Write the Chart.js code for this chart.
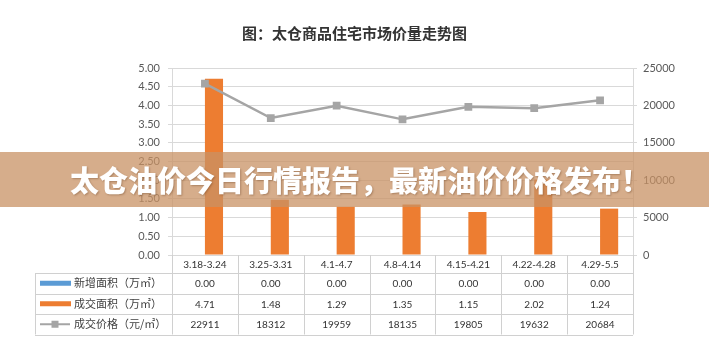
<!DOCTYPE html>
<html>
<head>
<meta charset="utf-8">
<script src="https://cdn.jsdelivr.net/npm/chart.js@4.4.0/dist/chart.umd.min.js"></script>
<style>
  html, body { margin: 0; padding: 0; background: #fff; }
  #wrap { width: 709px; height: 362px; }
</style>
</head>
<body>
<div id="wrap"><canvas id="priceChart" width="709" height="362"></canvas></div>
<script>
// data
var TITLE = '图：太仓商品住宅市场价量走势图';
var BANNER = '太仓油价今日行情报告，最新油价价格发布！';
var weeks = ['3.18-3.24', '3.25-3.31', '4.1-4.7', '4.8-4.14', '4.15-4.21', '4.22-4.28', '4.29-5.5'];
var seriesNames = ['新增面积（万㎡）', '成交面积（万㎡）', '成交价格（元/㎡）'];
var newArea = [0, 0, 0, 0, 0, 0, 0];
var soldArea = [4.71, 1.48, 1.29, 1.35, 1.15, 2.02, 1.24];
var soldPrice = [22911, 18312, 19959, 18135, 19805, 19632, 20684];

const BLUE = '#5B9BD5';
const ORANGE = '#ED7D31';
const GRAY = '#A5A5A5';
const GRID = '#D9D9D9';
const TABLE_LINE = '#D0D0D0';
const NUM_FONT = 'Lato, "Liberation Sans", sans-serif';
const CJK_FONT = '"Noto Sans CJK SC", sans-serif';

// data table under the plot (replaces the x axis, like Excel's data table)
var tablePlugin = {
    id: 'dataTable',
    afterDraw: function (chart) {
        var ctx = chart.ctx;
        var area = chart.chartArea;
        var xs = chart.scales.x;
        var cw = xs.getPixelForValue(1) - xs.getPixelForValue(0);
        var tableLeft = 35;
        var headTop = area.bottom;
        var headH = 18;
        var rowH = 20.5;
        var rowsTop = headTop + headH;
        var bottom = rowsTop + rowH * 3;

        ctx.save();
        ctx.strokeStyle = TABLE_LINE;
        ctx.lineWidth = 1;
        ctx.beginPath();
        for (var i = 0; i <= weeks.length; i++) {
            var x = Math.round(area.left + i * cw) + 0.5;
            ctx.moveTo(x, headTop);
            ctx.lineTo(x, bottom);
        }
        ctx.moveTo(tableLeft + 0.5, rowsTop);
        ctx.lineTo(tableLeft + 0.5, bottom);
        for (var r = 0; r <= 3; r++) {
            var y = Math.round(rowsTop + r * rowH) + 0.5;
            ctx.moveTo(tableLeft, y);
            ctx.lineTo(area.right, y);
        }
        ctx.stroke();

        // header row: week labels
        ctx.fillStyle = '#333';
        ctx.font = '10px ' + NUM_FONT;
        ctx.textAlign = 'center';
        ctx.textBaseline = 'middle';
        weeks.forEach(function (w, i) {
            ctx.fillText(w, xs.getPixelForValue(i), headTop + headH / 2 + 1);
        });

        // rows: legend key + values
        var rows = [
            {ds: chart.data.datasets[1], fmt: function (v) { return v.toFixed(2); }},
            {ds: chart.data.datasets[2], fmt: function (v) { return v.toFixed(2); }},
            {ds: chart.data.datasets[0], fmt: function (v) { return String(v); }}
        ];
        rows.forEach(function (row, r) {
            var cy = rowsTop + r * rowH + rowH / 2;
            var ds = row.ds;
            if (ds.type === 'line') {
                ctx.strokeStyle = ds.borderColor;
                ctx.lineWidth = 2;
                ctx.beginPath();
                ctx.moveTo(40, cy);
                ctx.lineTo(70, cy);
                ctx.stroke();
                ctx.fillStyle = ds.borderColor;
                ctx.fillRect(51.5, cy - 3.5, 7, 7);
            } else {
                ctx.fillStyle = ds.backgroundColor;
                ctx.fillRect(40, cy - 2.5, 31, 5);
            }
            ctx.fillStyle = '#404040';
            ctx.font = '11px ' + CJK_FONT;
            ctx.textAlign = 'left';
            ctx.fillText(ds.label, 74, cy);

            ctx.fillStyle = '#333';
            ctx.font = '10px ' + NUM_FONT;
            ctx.textAlign = 'center';
            ds.data.forEach(function (v, i) {
                ctx.fillText(row.fmt(v), xs.getPixelForValue(i), cy + 1);
            });
        });
        ctx.restore();
    }
};

// the headline band laid across the picture
var bannerPlugin = {
    id: 'banner',
    afterDraw: function (chart) {
        var ctx = chart.ctx;
        ctx.save();
        ctx.fillStyle = 'rgba(200, 145, 100, 0.75)';
        ctx.fillRect(0, 152, chart.width, 55);
        ctx.font = '900 29px ' + CJK_FONT;
        ctx.fillStyle = '#fff';
        ctx.textAlign = 'center';
        ctx.textBaseline = 'middle';
        ctx.shadowColor = 'rgba(90, 50, 20, 0.35)';
        ctx.shadowBlur = 2;
        ctx.shadowOffsetX = 1;
        ctx.shadowOffsetY = 1;
        ctx.fillText(BANNER, 360, 181);
        ctx.restore();
    }
};

var ctx = document.getElementById('priceChart');
var chart = new Chart(ctx, {
    type: 'bar',
    data: {
        labels: weeks,
        datasets: [
            {
                type: 'line',
                label: seriesNames[2],
                data: soldPrice,
                yAxisID: 'yR',
                borderColor: GRAY,
                backgroundColor: GRAY,
                borderWidth: 2.5,
                pointStyle: 'rect',
                pointRadius: 5.5,
                pointBorderWidth: 0,
                tension: 0,
                order: 0
            },
            {
                label: seriesNames[0],
                data: newArea,
                yAxisID: 'yL',
                backgroundColor: BLUE,
                barPercentage: 1,
                categoryPercentage: 0.55,
                order: 1
            },
            {
                label: seriesNames[1],
                data: soldArea,
                yAxisID: 'yL',
                backgroundColor: ORANGE,
                barPercentage: 1,
                categoryPercentage: 0.55,
                order: 1
            }
        ]
    },
    options: {
        responsive: false,
        animation: false,
        devicePixelRatio: 1,
        layout: {padding: {left: 0, right: 0, top: 0, bottom: 107}},
        plugins: {
            legend: {display: false},
            tooltip: {enabled: false},
            title: {
                display: true,
                text: TITLE,
                color: '#333',
                font: {family: CJK_FONT, size: 15, weight: 'bold'},
                padding: {top: 24, bottom: 26}
            }
        },
        scales: {
            x: {
                display: false,
                offset: true
            },
            yL: {
                position: 'left',
                min: 0,
                max: 5,
                ticks: {
                    stepSize: 0.5,
                    color: '#595959',
                    font: {family: NUM_FONT, size: 11},
                    padding: 8,
                    callback: function (v) { return v.toFixed(2); }
                },
                grid: {color: GRID, tickLength: 4},
                border: {color: GRID},
                afterFit: function (s) { s.width = 172; }
            },
            yR: {
                position: 'right',
                min: 0,
                max: 25000,
                ticks: {
                    stepSize: 5000,
                    color: '#595959',
                    font: {family: NUM_FONT, size: 11},
                    padding: 6,
                    callback: function (v) { return String(v); }
                },
                grid: {drawOnChartArea: false, color: GRID, tickLength: 4},
                border: {color: GRID},
                afterFit: function (s) { s.width = 76; }
            }
        }
    },
    plugins: [tablePlugin, bannerPlugin]
});
</script>
</body>
</html>
